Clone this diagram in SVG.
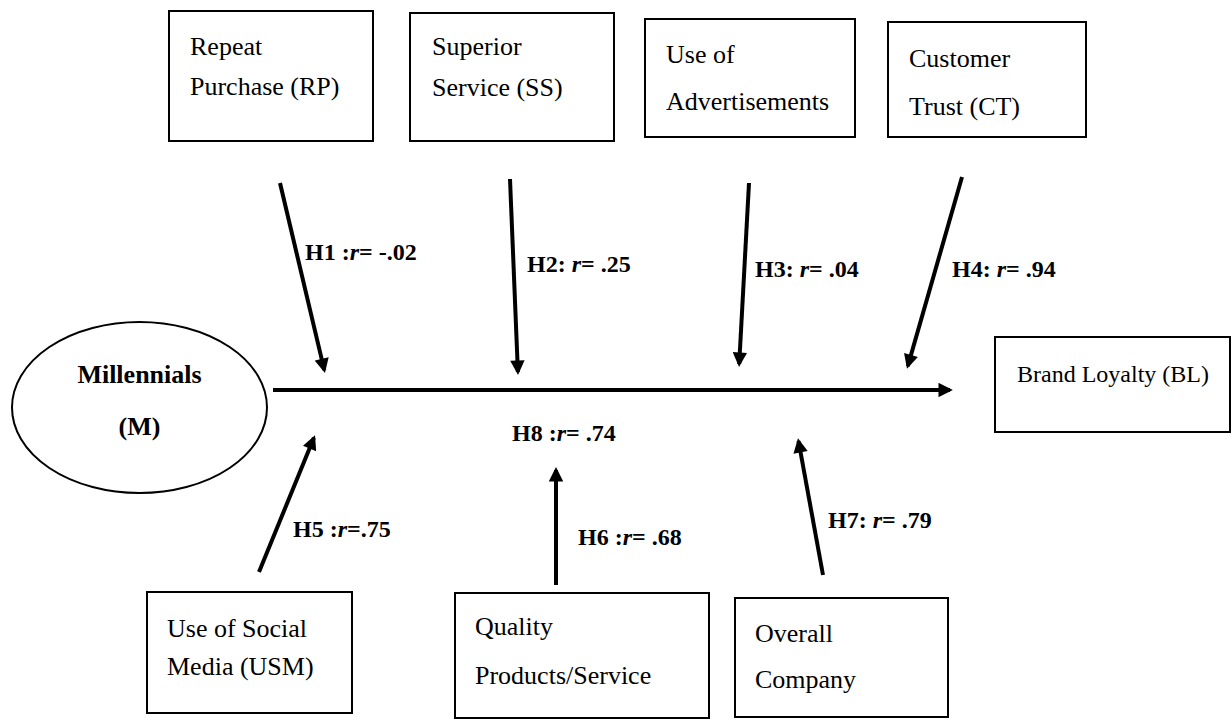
<svg xmlns="http://www.w3.org/2000/svg" width="1232" height="720" viewBox="0 0 1232 720">
  <style>
    .box { fill: #ffffff; stroke: #000000; stroke-width: 2; }
    .t { font-family: "Liberation Serif", "Times New Roman", serif; font-size: 26px; fill: #000000; }
    .tb { font-family: "Liberation Serif", "Times New Roman", serif; font-size: 26px; font-weight: bold; fill: #000000; }
    .lab { font-family: "Liberation Serif", "Times New Roman", serif; font-size: 24px; font-weight: bold; fill: #000000; }
    .lab tspan.i { font-style: italic; }
    .arr { stroke: #000000; stroke-width: 4; fill: none; marker-end: url(#ah); }
  </style>
  <defs>
    <marker id="ah" viewBox="0 0 10 10" refX="8" refY="5" markerWidth="4" markerHeight="3.6" orient="auto" markerUnits="strokeWidth">
      <path d="M0,0 L10,5 L0,10 z" fill="#000000"/>
    </marker>
  </defs>
  <rect width="1232" height="720" fill="#ffffff"/>

  <g id="node-rp">
    <rect class="box" x="169" y="11" width="204" height="130"/>
    <text class="t" x="190" y="55">Repeat</text>
    <text class="t" x="190" y="95">Purchase (RP)</text>
  </g>
  <g id="node-ss">
    <rect class="box" x="410" y="13" width="204" height="128"/>
    <text class="t" x="432" y="55">Superior</text>
    <text class="t" x="432" y="96">Service (SS)</text>
  </g>
  <g id="node-ua">
    <rect class="box" x="645" y="19" width="210" height="118"/>
    <text class="t" x="666" y="63">Use of</text>
    <text class="t" x="666" y="110">Advertisements</text>
  </g>
  <g id="node-ct">
    <rect class="box" x="888" y="22" width="198" height="115"/>
    <text class="t" x="909" y="67">Customer</text>
    <text class="t" x="909" y="115">Trust (CT)</text>
  </g>
  <g id="node-m">
    <ellipse cx="139.5" cy="407.5" rx="127.5" ry="85.5" fill="#ffffff" stroke="#000000" stroke-width="2"/>
    <text class="tb" x="139.5" y="383" text-anchor="middle">Millennials</text>
    <text class="tb" x="139.5" y="435" text-anchor="middle">(M)</text>
  </g>
  <g id="node-bl">
    <rect class="box" x="995" y="337" width="235" height="95"/>
    <text class="t" x="1017" y="382" style="font-size:24px">Brand Loyalty (BL)</text>
  </g>
  <g id="node-usm">
    <rect class="box" x="147" y="592" width="205" height="121"/>
    <text class="t" x="167" y="637">Use of Social</text>
    <text class="t" x="167" y="675">Media (USM)</text>
  </g>
  <g id="node-qps">
    <rect class="box" x="455" y="593" width="254" height="125"/>
    <text class="t" x="475" y="635">Quality</text>
    <text class="t" x="475" y="684">Products/Service</text>
  </g>
  <g id="node-oc">
    <rect class="box" x="735" y="598" width="213" height="119"/>
    <text class="t" x="755" y="642">Overall</text>
    <text class="t" x="755" y="688">Company</text>
  </g>

  <g id="connectors">
    <line class="arr" x1="273" y1="390" x2="950" y2="390"/>
    <line class="arr" x1="280" y1="183" x2="324.3" y2="370.1"/>
    <line class="arr" x1="510" y1="179" x2="517.9" y2="372"/>
    <line class="arr" x1="749" y1="183" x2="739.2" y2="364"/>
    <line class="arr" x1="962" y1="177" x2="907.8" y2="366.1"/>
    <line class="arr" x1="259" y1="572" x2="313.9" y2="437.8"/>
    <line class="arr" x1="556" y1="585" x2="556" y2="470"/>
    <line class="arr" x1="823" y1="575" x2="798.5" y2="441"/>
  </g>

  <g id="labels">
    <text class="lab" x="305" y="260">H1 :<tspan class="i">r</tspan>= -.02</text>
    <text class="lab" x="527" y="272">H2: <tspan class="i">r</tspan>= .25</text>
    <text class="lab" x="755" y="277">H3: <tspan class="i">r</tspan>= .04</text>
    <text class="lab" x="952" y="277">H4: <tspan class="i">r</tspan>= .94</text>
    <text class="lab" x="512" y="441">H8 :<tspan class="i">r</tspan>= .74</text>
    <text class="lab" x="293" y="537">H5 :<tspan class="i">r</tspan>=.75</text>
    <text class="lab" x="578" y="545">H6 :<tspan class="i">r</tspan>= .68</text>
    <text class="lab" x="828" y="528">H7: <tspan class="i">r</tspan>= .79</text>
  </g>
</svg>
